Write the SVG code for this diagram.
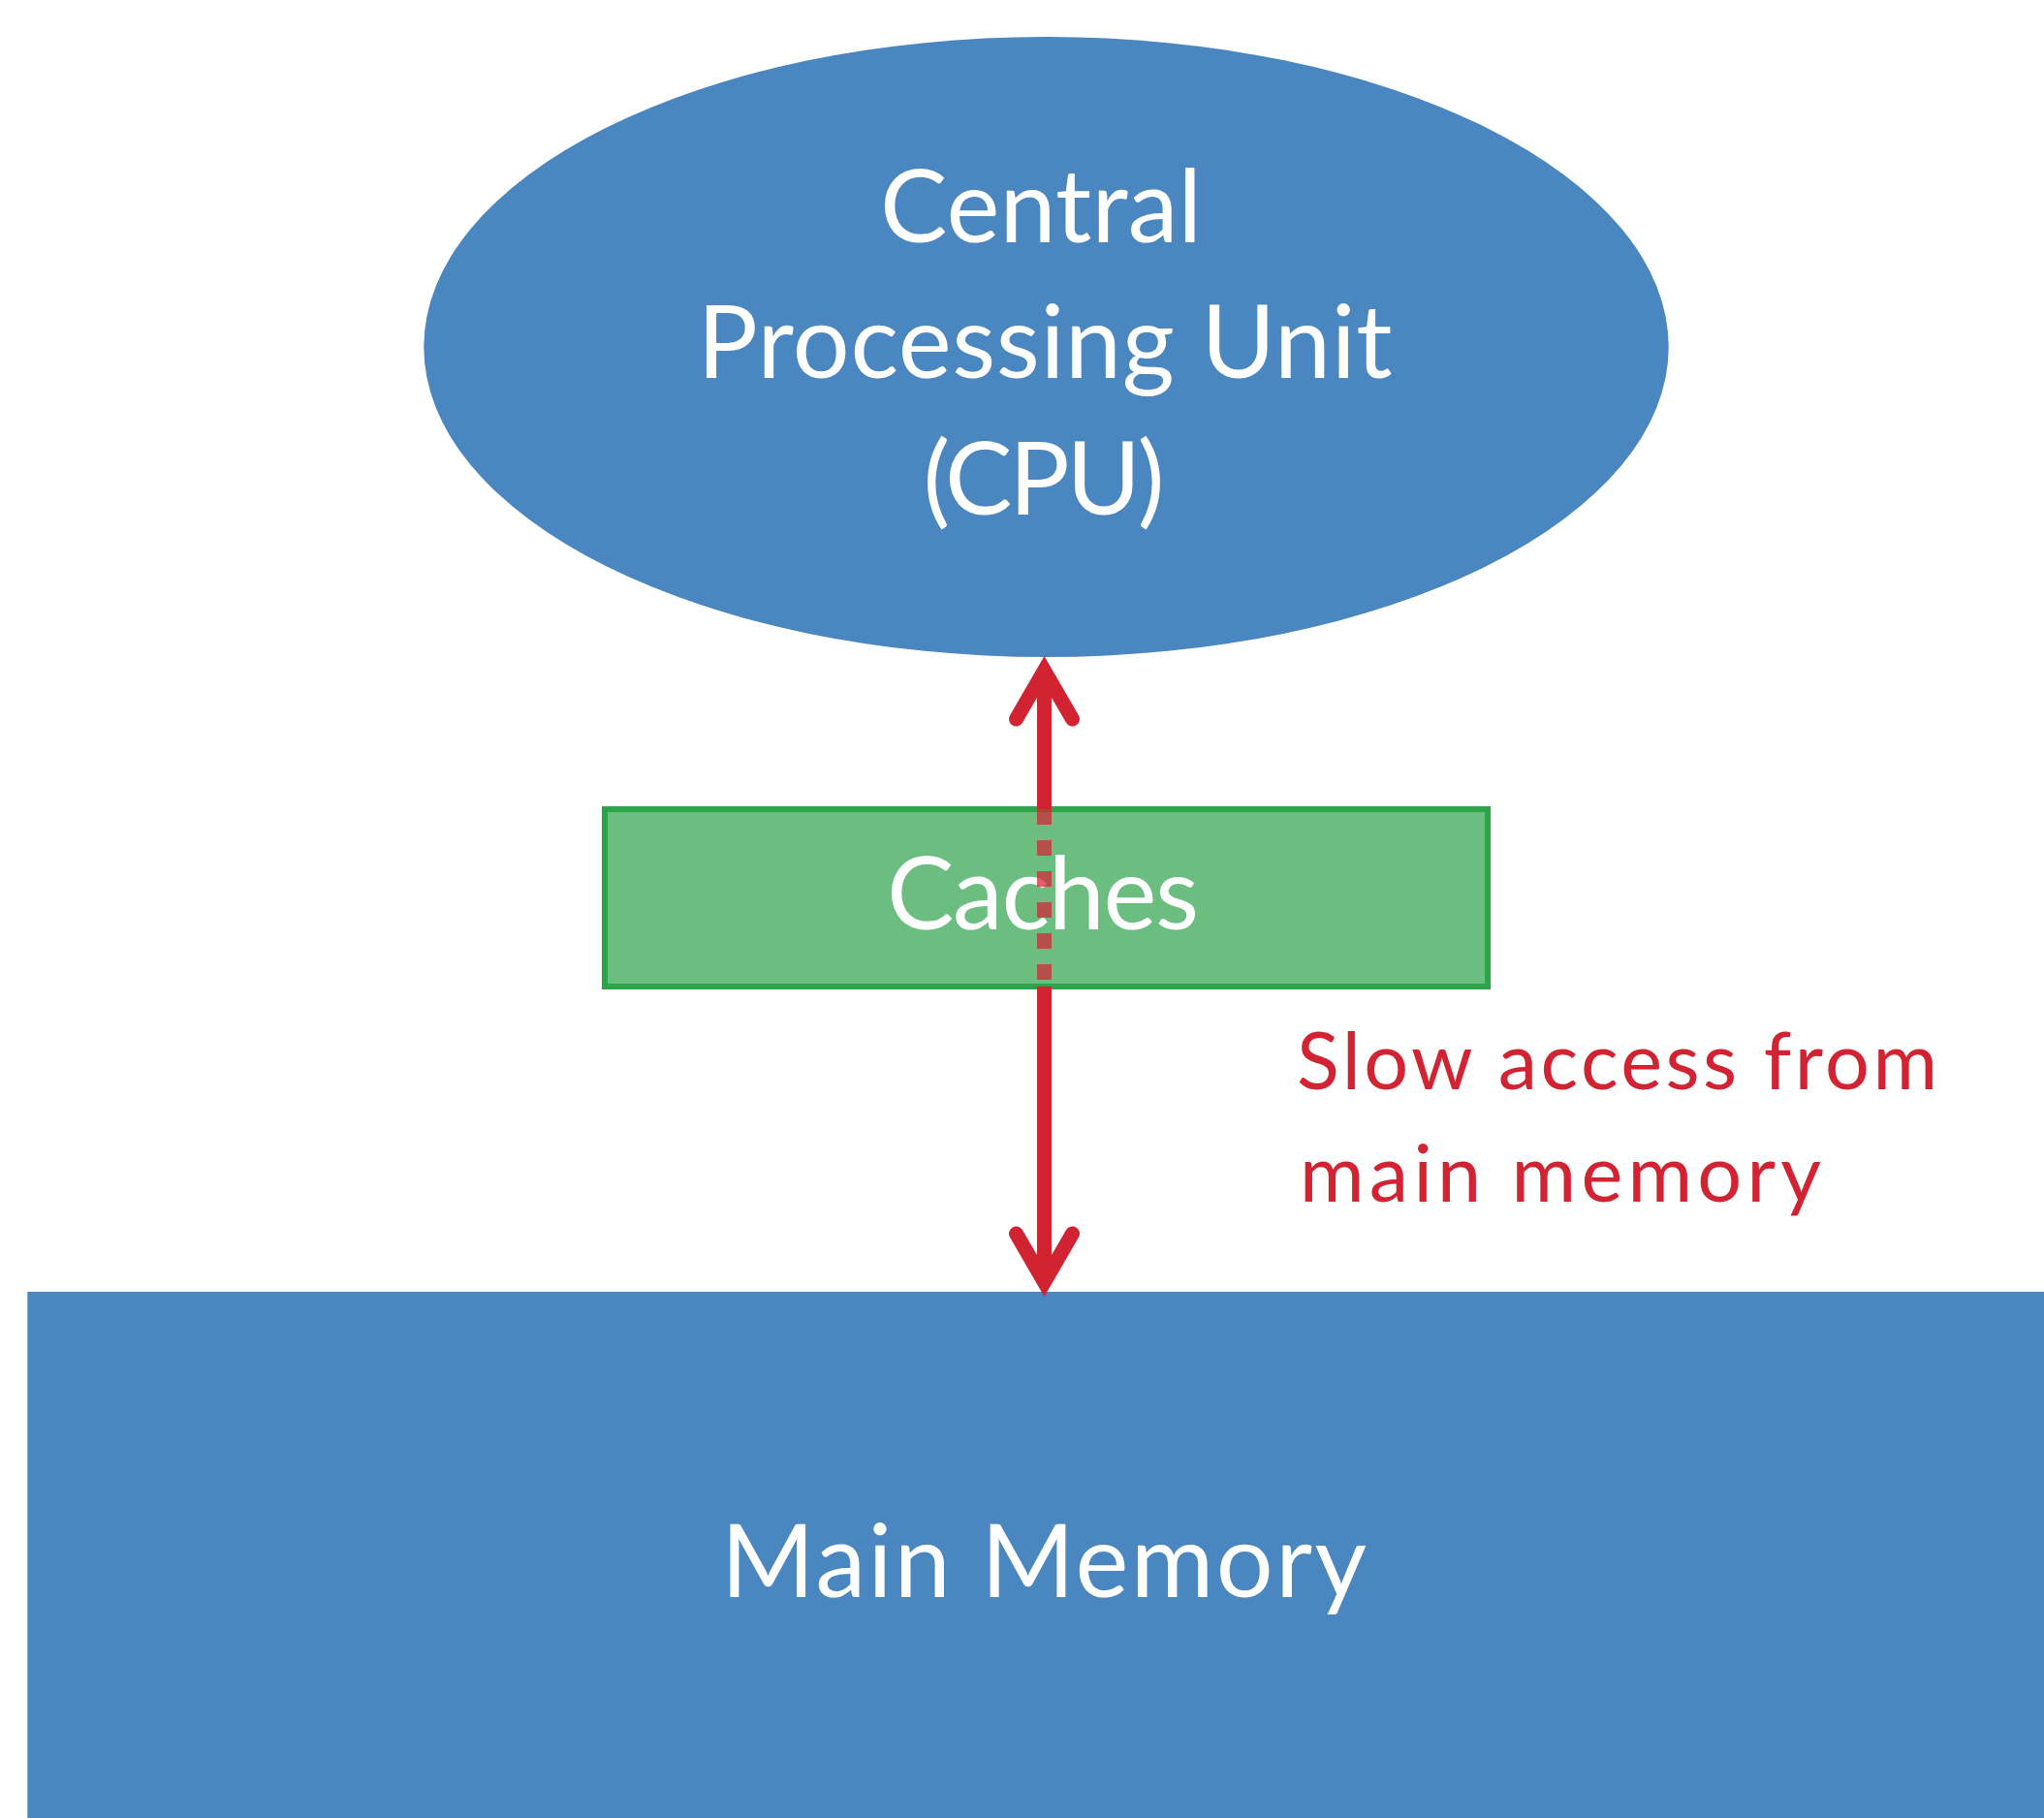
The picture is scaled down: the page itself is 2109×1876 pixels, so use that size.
<svg xmlns="http://www.w3.org/2000/svg" width="2109" height="1876" viewBox="0 0 2109 1876">
  <style>
    .label { font-family: Lato, "Open Sans", "Liberation Sans", sans-serif; fill: #ffffff; text-anchor: middle; }
    .big { font-size: 104px; }
    .note { font-family: Lato, "Open Sans", "Liberation Sans", sans-serif; fill: #d22333; font-size: 81px; }
    .wire { stroke: #d22333; stroke-width: 15; fill: none; stroke-linecap: butt; }
    .dashed { stroke-dasharray: 16 16; stroke-opacity: 0.72; }
    .head { stroke: #d22333; stroke-width: 15; fill: none; stroke-linecap: round; stroke-linejoin: miter; }
  </style>
  <rect width="2109" height="1876" fill="#ffffff"/>

  <!-- processor -->
  <g id="cpu">
    <ellipse cx="1079.5" cy="358" rx="642.2" ry="320" fill="#4a86bf"/>
    <text class="label big" x="1074" y="250" textLength="332">Central</text>
    <text class="label big" x="1078" y="390" textLength="717">Processing Unit</text>
    <text class="label big" x="1077" y="531" textLength="249">(CPU)</text>
  </g>

  <!-- memory block along the bottom -->
  <g id="main-memory">
    <rect x="28.3" y="1333" width="2081" height="543" fill="#4a86bf"/>
    <text class="label big" x="1077" y="1648" textLength="666">Main Memory</text>
  </g>

  <!-- cache layer between the two -->
  <g id="caches">
    <rect x="624" y="835" width="911" height="183" fill="#6cbe80" stroke="#2da44a" stroke-width="6"/>
    <text class="label big" x="1076" y="959" textLength="322">Caches</text>
  </g>

  <!-- two-way access path -->
  <g id="connectors">
    <line class="wire" x1="1077.5" y1="692" x2="1077.5" y2="835"/>
    <line class="wire dashed" x1="1077.5" y1="835" x2="1077.5" y2="1015"/>
    <line class="wire" x1="1077.5" y1="1018" x2="1077.5" y2="1323"/>
    <path class="head" d="M1048.5,742 L1077.5,692 L1106.5,742"/>
    <path class="head" d="M1048.5,1273 L1077.5,1323 L1106.5,1273"/>
  </g>

  <g id="access-note">
    <text class="note" x="1338" y="1124" textLength="661">Slow access from</text>
    <text class="note" x="1341" y="1240" textLength="538">main memory</text>
  </g>
</svg>
